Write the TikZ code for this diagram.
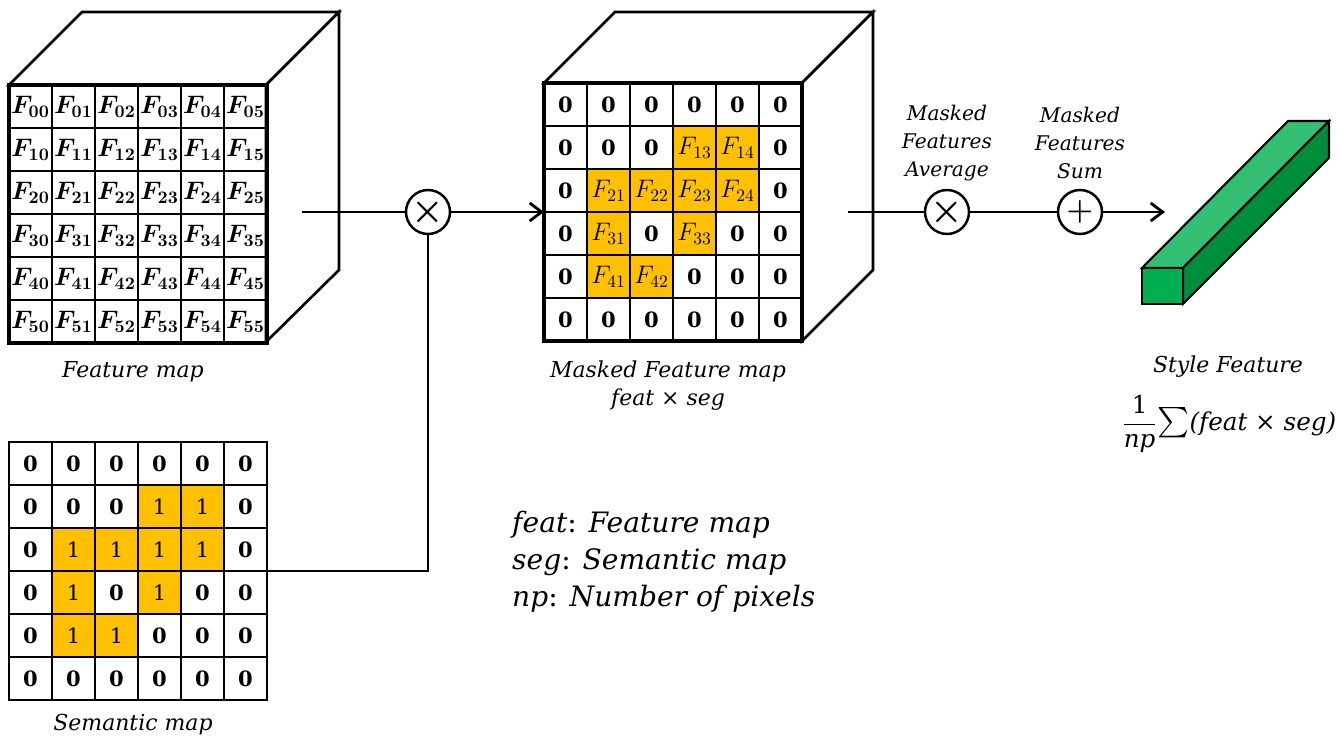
\documentclass[tikz,border=0pt]{standalone}
\usepackage{amsmath,bm}
\usepackage{fontspec}
\setmainfont{DejaVu Serif}
\usetikzlibrary{arrows.meta}
\definecolor{maskorange}{HTML}{FFC000}
\definecolor{barfront}{HTML}{00B050}
\definecolor{bartop}{HTML}{34C073}
\definecolor{barside}{HTML}{008E3C}
\tikzset{
  cell/.style={draw=black,line width=0.8pt,minimum size=0.86cm,inner sep=0pt,outer sep=0pt,font=\fontsize{12}{14}\selectfont},
  semcell0/.style={cell,fill=white},
  semcell1/.style={cell,fill=maskorange},
  op/.style={circle,draw=black,line width=1.4pt,minimum size=0.88cm,inner sep=0pt,fill=white,font=\huge},
  lbl/.style={align=center,font=\fontsize{12.5}{16}\selectfont\itshape},
  wire/.style={line width=1.6pt},
  face/.style={line width=1.5pt,fill=white},
  >={Straight Barb[length=2.4mm,width=3.6mm]},
}
\begin{document}
\begin{tikzpicture}[x=0.02cm,y=-0.02cm]
        \useasboundingbox (0,0) rectangle (1343,742);
        % feature map cube
        \draw[face] (9,85) -- (82,12) -- (339,12) -- (266,85) -- cycle;
        \draw[face] (266,85) -- (339,12) -- (339,270) -- (266,342) -- cycle;
        \foreach \r in {0,...,5}
          \foreach \c in {0,...,5}
            \node[cell,font=\fontsize{14}{16}\selectfont] (fm-\r-\c) at (30.5+43*\c,106.5+43*\r) {$\bm{F_{\r\c}}$};
        \draw[line width=1.8pt] (9,85) rectangle (267,343);
        \node[lbl] (fmlbl) at (133,372) {Feature map};

        % semantic map and masked feature map share the mask rows
        \draw[face] (544,83) -- (615,12) -- (873,12) -- (802,83) -- cycle;
        \draw[face] (802,83) -- (873,12) -- (873,270) -- (802,341) -- cycle;
        \foreach \r/\vals in {0/{0,0,0,0,0,0},1/{0,0,0,1,1,0},2/{0,1,1,1,1,0},3/{0,1,0,1,0,0},4/{0,1,1,0,0,0},5/{0,0,0,0,0,0}}
          \foreach \v [count=\c from 0] in \vals {
            \node[semcell\v] (sm-\r-\c) at (30.5+43*\c,463.5+43*\r) {\ifnum\v=0 \textbf{0}\else 1\fi};
            \node[semcell\v] (mm-\r-\c) at (565.5+43*\c,104.5+43*\r) {\ifnum\v=0 \textbf{0}\else \fontsize{14}{16}\selectfont$F_{\r\c}$\fi};
          }
        \draw[line width=1.8pt] (544,83) rectangle (802,341);
        \draw[line width=1pt] (9,442) rectangle (267,700);
        \node[lbl] (smlbl) at (133,725) {Semantic map};
        \node[lbl] (mmlbl) at (668,386) {Masked Feature map\\feat × seg};

        % multiply with the mask
        \node[op] (mul) at (428,212) {$\bm{\times}$};
        \coordinate (fmout) at (302,212);
        \coordinate (mmin) at (544,212);
        \draw[wire] (fmout) -- (mul);
        \draw[wire,->] (mul) -- (mmin);
        \draw[wire] (sm-3-5.north east) -| (mul);

        % average and sum
        \coordinate (mmout) at (848,212);
        \node[op] (avg) at (947,212) {$\bm{\times}$};
        \node[op,font=\LARGE] (sum) at (1080,212) {$\bm{+}$};
        \coordinate (barin) at (1165,212);
        \draw[wire] (mmout) -- (avg);
        \draw[wire] (avg) -- (sum);
        \draw[wire,->] (sum) -- (barin);
        \node[lbl,font=\fontsize{11.5}{16}\selectfont\itshape] (avglbl) at (947,143) {Masked\\Features\\Average};
        \node[lbl,font=\fontsize{11.5}{16}\selectfont\itshape] (sumlbl) at (1080,143) {Masked\\Features\\Sum};

        % style feature bar
        \draw[line width=1.2pt,fill=bartop] (1142,268) -- (1288,121) -- (1329,121) -- (1183,268) -- cycle;
        \draw[line width=1.2pt,fill=barside] (1183,268) -- (1329,121) -- (1329,158) -- (1183,304) -- cycle;
        \draw[line width=1.2pt,fill=barfront] (1142,268) rectangle (1183,304);
        \node[lbl,inner sep=1pt] (sflbl) at (1228,367) {Style Feature};
        \node[inner sep=0pt,font=\fontsize{14}{16}\selectfont\itshape] (sfeq) at (1229,424) {$\dfrac{\text{\upshape 1}}{\text{np}}${\fontsize{17}{16}\selectfont$\sum$}(feat × seg)};

        % legend
        \node[anchor=west,align=left,font=\fontsize{16}{21}\selectfont\itshape] (legend) at (506,562) {feat\/\upshape: \itshape Feature map\\seg\/\upshape: \itshape Semantic map\\np\/\upshape: \itshape Number of pixels};
\end{tikzpicture}
\end{document}
